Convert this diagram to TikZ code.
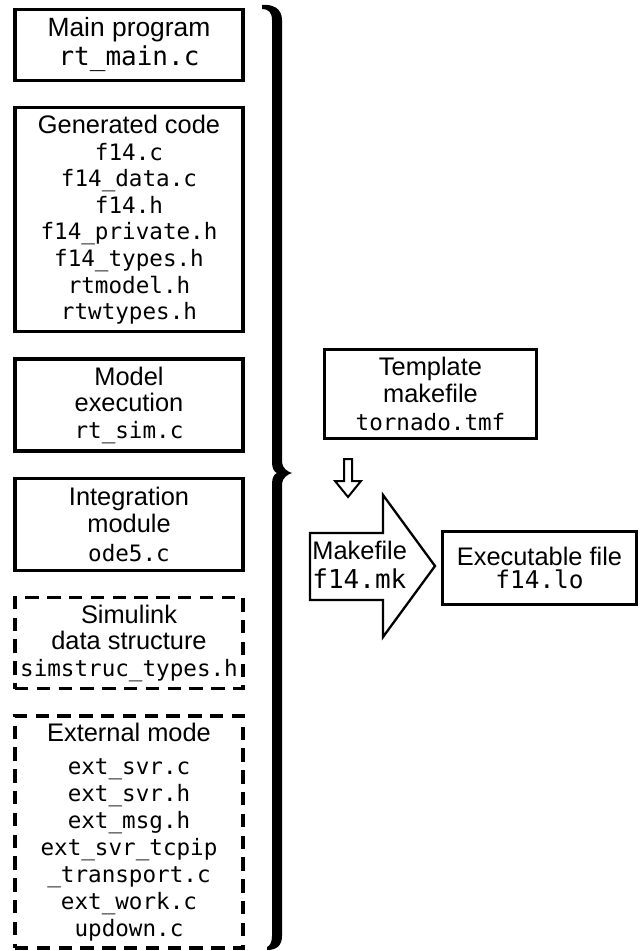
\documentclass[tikz,border=0pt]{standalone}
\usepackage{fontspec}
\setsansfont{Liberation Sans}
\setmonofont{DejaVu Sans Mono}
\usepackage{tikz}
\usetikzlibrary{positioning}

\newcommand{\fn}[1]{{\ttfamily\fontsize{11.3}{13.3}\selectfont #1}}
\newcommand{\fnbig}[1]{{\ttfamily\fontsize{13}{14.5}\selectfont #1}}

\begin{document}
\begin{tikzpicture}[
    x=0.5pt, y=-0.5pt,
    node distance=12pt,
    filebox/.style={draw, line width=1.65pt, minimum width=114pt, inner sep=0pt, align=center, font=\sffamily\fontsize{12.7}{13.3}\selectfont},
    optbox/.style={filebox, dash pattern=on 6.7pt off 4.2pt},
    hollow/.style={draw, line width=1pt}
]
    \useasboundingbox (0,0) rectangle (639,951);

    \node[filebox, minimum height=35.5pt, font=\sffamily\fontsize{13.2}{14.5}\selectfont] (main) at (129,45) {Main program\\\fnbig{rt\_main.c}};
    \node[filebox, minimum height=112pt, below=of main] (gen) {Generated code\\\fn{f14.c}\\\fn{f14\_data.c}\\\fn{f14.h}\\\fn{f14\_private.h}\\\fn{f14\_types.h}\\\fn{rtmodel.h}\\\fn{rtwtypes.h}};
    \node[filebox, minimum height=46pt, below=of gen] (exec) {Model\\execution\\\fn{rt\_sim.c}};
    \node[filebox, minimum height=46pt, below=of exec] (integ) {Integration\\module\\[1pt]\fn{ode5.c}};
    \node[optbox, minimum height=45.5pt, below=of integ] (simstr) {Simulink\\data structure\\\fn{simstruc\_types.h}};
    \node[optbox, minimum height=116pt, below=of simstr, font=\sffamily\fontsize{12.7}{13.5}\selectfont] (extmode) {External mode\\[3pt]\fn{ext\_svr.c}\\\fn{ext\_svr.h}\\\fn{ext\_msg.h}\\\fn{ext\_svr\_tcpip}\\\fn{\_transport.c}\\\fn{ext\_work.c}\\\fn{updown.c}};

    \fill (262,5) .. controls (272,4) and (282,8) .. (282,20) -- (282,462) .. controls (282,468) and (288,472) .. (292,473) .. controls (288,474) and (282,478) .. (282,484) -- (282,936) .. controls (282,946) and (276,950) .. (267,950) -- (267,947) .. controls (270,946) and (272,942) .. (272,936) -- (272,484) .. controls (272,478) and (274,474) .. (277,473) .. controls (274,472) and (272,468) .. (272,462) -- (272,20) .. controls (272,12) and (268,9) .. (262,9) -- cycle;

    \node[filebox, minimum width=106pt, minimum height=44.3pt] (tmf) at (430.5,394) {Template\\makefile\\[0.5pt]\fn{tornado.tmf}};
    \draw[hollow] (344,459) -- (352,459) -- (352,481) -- (361,481) -- (348,497) -- (335,481) -- (344,481) -- cycle;

    \draw[hollow, line width=1.15pt] (310,533) -- (383,533) -- (383,495) -- (435,566) -- (383,637) -- (383,600) -- (310,600) -- cycle;
    \node[anchor=west, inner sep=0pt, align=left, font=\sffamily\fontsize{12.7}{14.5}\selectfont] (mk) at (312,565) {Makefile\\\fnbig{f14.mk}};

    \node[filebox, minimum width=97pt, minimum height=36.3pt, font=\sffamily\fontsize{12.7}{11.5}\selectfont] (exe) at (539.5,568) {Executable file\\{\ttfamily\fontsize{12.2}{11.5}\selectfont f14.lo}};
\end{tikzpicture}
\end{document}
